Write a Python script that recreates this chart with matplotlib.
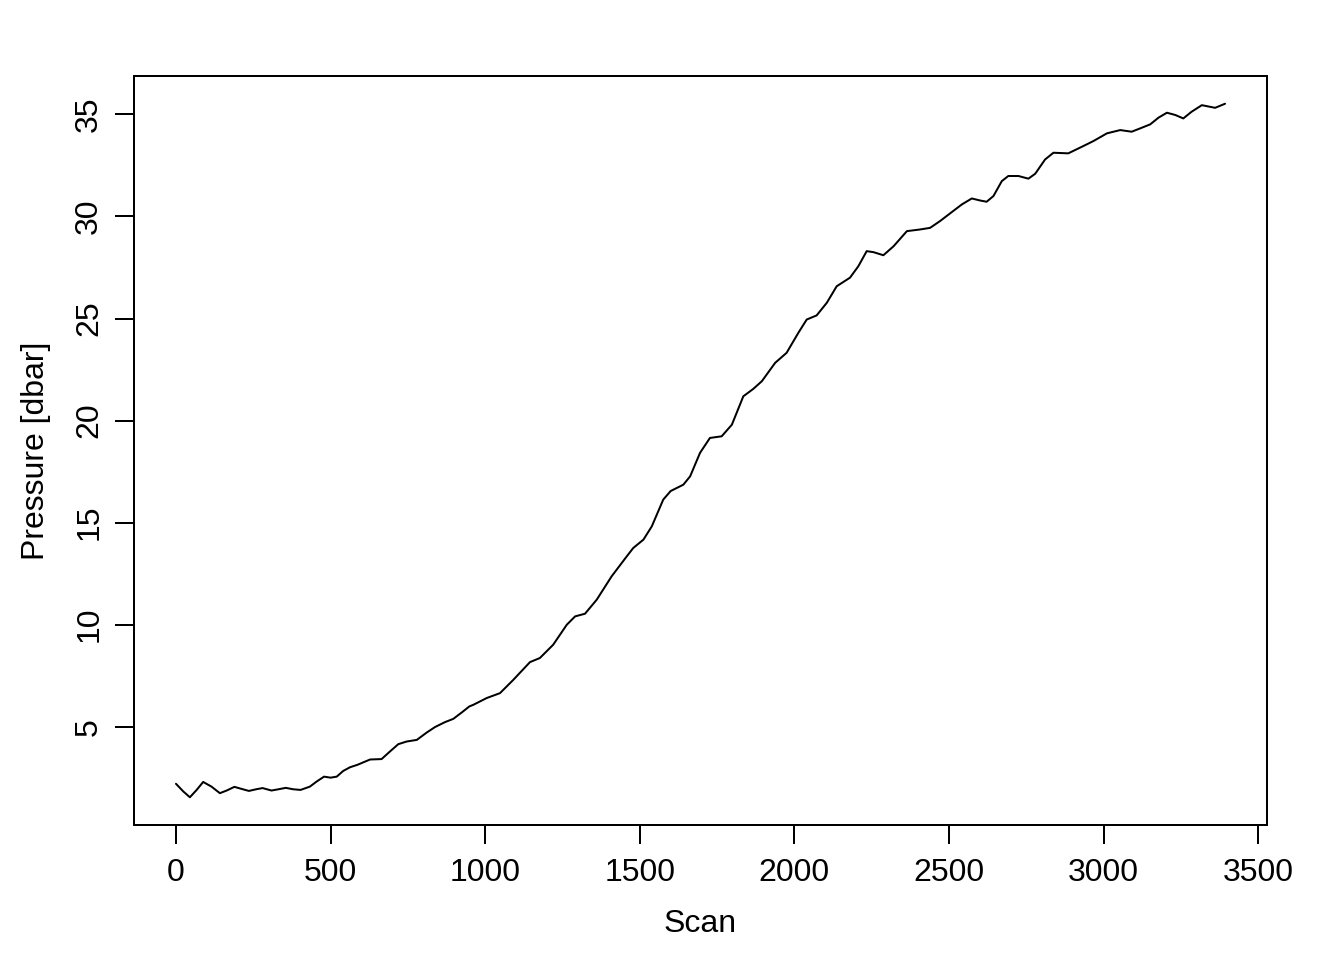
import matplotlib
matplotlib.use("Agg")
import matplotlib.pyplot as plt

plt.rcParams['font.family'] = ['Liberation Sans', 'DejaVu Sans']

# scan number and pressure
scan = [0, 24, 45, 67, 88, 115, 142, 164, 189, 212, 236, 259, 280, 309, 331,
        355, 380, 403, 433, 455, 479, 500, 520, 541, 563, 587, 628, 665, 692,
        719, 746, 779, 811, 838, 870, 897, 924, 949, 962, 1005, 1048, 1091,
        1145, 1177, 1220, 1264, 1291, 1323, 1361, 1409, 1458, 1479, 1512, 1539,
        1576, 1600, 1641, 1663, 1695, 1727, 1765, 1798, 1835, 1867, 1895, 1938,
        1975, 2013, 2040, 2072, 2105, 2137, 2180, 2207, 2234, 2256, 2288, 2321,
        2364, 2406, 2439, 2471, 2509, 2542, 2574, 2601, 2622, 2644, 2671, 2692,
        2725, 2757, 2779, 2811, 2838, 2886, 2935, 2967, 3011, 3054, 3091, 3118,
        3151, 3178, 3205, 3232, 3258, 3285, 3318, 3361, 3393]
pressure = [2.21, 1.83, 1.55, 1.91, 2.30, 2.07, 1.75, 1.88, 2.06, 1.96, 1.86,
            1.94, 2.00, 1.88, 1.94, 2.01, 1.94, 1.91, 2.07, 2.32, 2.56, 2.51,
            2.56, 2.84, 3.02, 3.14, 3.40, 3.42, 3.79, 4.15, 4.28, 4.36, 4.72,
            4.99, 5.23, 5.39, 5.70, 6.00, 6.08, 6.41, 6.65, 7.30, 8.17, 8.37,
            9.02, 10.00, 10.41, 10.54, 11.23, 12.37, 13.35, 13.76, 14.17, 14.82,
            16.13, 16.55, 16.86, 17.27, 18.42, 19.15, 19.23, 19.80, 21.19, 21.55,
            21.93, 22.83, 23.32, 24.30, 24.95, 25.15, 25.77, 26.58, 27.00, 27.56,
            28.30, 28.25, 28.10, 28.54, 29.28, 29.36, 29.44, 29.77, 30.21, 30.59,
            30.88, 30.78, 30.72, 31.00, 31.73, 31.98, 31.98, 31.85, 32.09, 32.79,
            33.12, 33.09, 33.45, 33.69, 34.07, 34.23, 34.15, 34.31, 34.51, 34.84,
            35.08, 34.97, 34.80, 35.13, 35.45, 35.32, 35.52]

x_ticks = [0, 500, 1000, 1500, 2000, 2500, 3000, 3500]
y_ticks = [5, 10, 15, 20, 25, 30, 35]

fig = plt.figure(figsize=(7, 5), dpi=192)
ax = fig.add_axes([134 / 1344, 1 - 825 / 960, (1267 - 134) / 1344, (825 - 76) / 960])

ax.plot(scan, pressure, color='black', linewidth=0.75,
        solid_joinstyle='round', solid_capstyle='round')

# R style 4% padding
xr = max(scan) - min(scan)
yr = max(pressure) - min(pressure)
ax.set_xlim(min(scan) - 0.04 * xr, max(scan) + 0.04 * xr)
ax.set_ylim(min(pressure) - 0.04 * yr, max(pressure) + 0.04 * yr)

ax.set_xticks(x_ticks)
ax.set_yticks(y_ticks)
ax.set_xticklabels([str(t) for t in x_ticks])
ax.set_yticklabels([str(t) for t in y_ticks], rotation=90, va='center')
ax.tick_params(direction='out', length=7.2, width=0.75, labelsize=12, pad=5,
               color='black', labelcolor='black')
ax.tick_params(axis='y', pad=4)
for s in ax.spines.values():
    s.set_linewidth(0.75)

ax.set_xlabel('Scan', fontsize=12, labelpad=8)
ax.set_ylabel('Pressure [dbar]', fontsize=12, labelpad=8.5)

fig.savefig('out.png', dpi=192)
